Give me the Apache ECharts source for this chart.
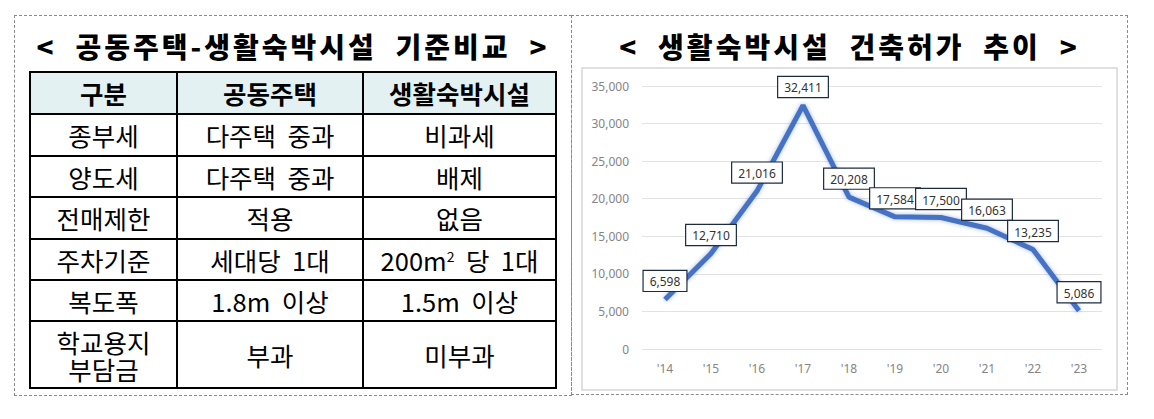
<!DOCTYPE html>
<html><head><meta charset="utf-8">
<script src="https://cdn.jsdelivr.net/npm/echarts@6/dist/echarts.min.js"></script>
<style>
html,body{margin:0;padding:0;background:#fff;width:1154px;height:419px;overflow:hidden;font-family:"Noto Sans CJK KR","Noto Sans",sans-serif;}
.box{position:absolute;border:1px dashed #8a8a8a;box-sizing:border-box;}
.title{position:absolute;left:0;right:0;text-align:center;font-weight:900;font-size:28px;line-height:30px;letter-spacing:3px;white-space:pre;color:#000;}
#tbl{position:absolute;left:29px;top:71px;border-collapse:collapse;table-layout:fixed;}
#tbl td,#tbl th{border:2px solid #000;text-align:center;vertical-align:middle;font-size:25.5px;line-height:26px;padding:0;color:#000;font-weight:normal;}
#tbl th{background:#e3f1f3;font-weight:bold;}
#tbl .two{line-height:27px;}
#chart{position:absolute;left:571px;top:0;width:583px;height:419px;}
</style></head>
<body>
<div class="box" style="left:14px;top:15px;width:558px;height:381px;"><div class="title" style="top:15px">&lt;  공동주택-생활숙박시설  기준비교  &gt;</div></div>
<div class="box" style="left:571px;top:15px;width:557px;height:380px;"><div class="title" style="top:15px">&lt;  생활숙박시설  건축허가  추이  &gt;</div></div>
<table id="tbl"><colgroup><col style="width:147px"><col style="width:186px"><col style="width:193px"></colgroup><tbody id="tb"></tbody></table>
<div id="chart"></div>
<script>
// ----- table data -----
const tableHeader = ["구분", "공동주택", "생활숙박시설"];
const rowItems = ["종부세", "양도세", "전매제한", "주차기준", "복도폭", "학교용지<br>부담금"];
const apartment = ["다주택 중과", "다주택 중과", "적용", "세대당 1대", "1.8m 이상", "부과"];
const lodging = ["비과세", "배제", "없음", "200m<sup style=\"font-size:14px;line-height:0\">2</sup> 당 1대", "1.5m 이상", "미부과"];
const rowHeights = [42, 42, 41, 42, 41, 41, 67];

// ----- chart data -----
const years = ["'14", "'15", "'16", "'17", "'18", "'19", "'20", "'21", "'22", "'23"];
const permits = [6598, 12710, 21016, 32411, 20208, 17584, 17500, 16063, 13235, 5086];
const yMin = 0, yMax = 35000, yStep = 5000;

// build table
const tb = document.getElementById('tb');
let html = '<tr style="height:' + rowHeights[0] + 'px">' + tableHeader.map(h => '<th>' + h + '</th>').join('') + '</tr>';
for (let i = 0; i < rowItems.length; i++) {
  const cls = rowItems[i].indexOf('<br>') >= 0 ? ' class="two"' : '';
  html += '<tr style="height:' + rowHeights[i + 1] + 'px"><td' + cls + '>' + rowItems[i] + '</td><td style="white-space:pre">' + apartment[i] + '</td><td style="white-space:pre">' + lodging[i] + '</td></tr>';
}
tb.innerHTML = html.replace(/ 중과/g, '  중과').replace(/ 이상/g, '  이상').replace(/ 1대/g, '  1대').replace(/ 당/g, '  당');

function fmt(v) { return String(v).replace(/\B(?=(\d{3})+(?!\d))/g, ','); }

const chart = echarts.init(document.getElementById('chart'), null, { renderer: 'svg' });
chart.setOption({
  animation: false,
  textStyle: { fontFamily: '"Noto Sans", sans-serif' },
  graphic: [{
    type: 'rect', silent: true, z: -10,
    shape: { x: 11, y: 68, width: 535, height: 322 },
    style: { fill: 'none', stroke: '#d6d6d6', lineWidth: 1.5 }
  }],
  grid: { left: 71, right: 52, top: 86, bottom: 70 },
  xAxis: {
    type: 'category', data: years, boundaryGap: true,
    axisLine: { show: false }, axisTick: { show: false },
    axisLabel: { color: '#858585', fontSize: 12, margin: 13 }
  },
  yAxis: {
    type: 'value', min: yMin, max: yMax, interval: yStep,
    axisLine: { show: false }, axisTick: { show: false },
    splitLine: { lineStyle: { color: '#e2e2e2', width: 1 } },
    axisLabel: { color: '#858585', fontSize: 12, margin: 13, formatter: v => fmt(v) }
  },
  series: [{
    type: 'line', data: permits,
    symbol: 'circle', symbolSize: 1, showSymbol: true,
    itemStyle: { color: 'rgba(0,0,0,0)', borderWidth: 0 },
    lineStyle: { color: '#4472c4', width: 5, shadowBlur: 4, shadowColor: 'rgba(68,114,196,0.5)' },
    label: {
      show: true, position: 'top', distance: 8,
      formatter: p => fmt(p.value),
      backgroundColor: '#fff', borderColor: '#1c2b40', borderWidth: 1.2,
      padding: [5, 6, 3, 6], fontSize: 12, color: '#333333'
    },
    labelLayout: { hideOverlap: false }
  }]
});
</script>
</body></html>
